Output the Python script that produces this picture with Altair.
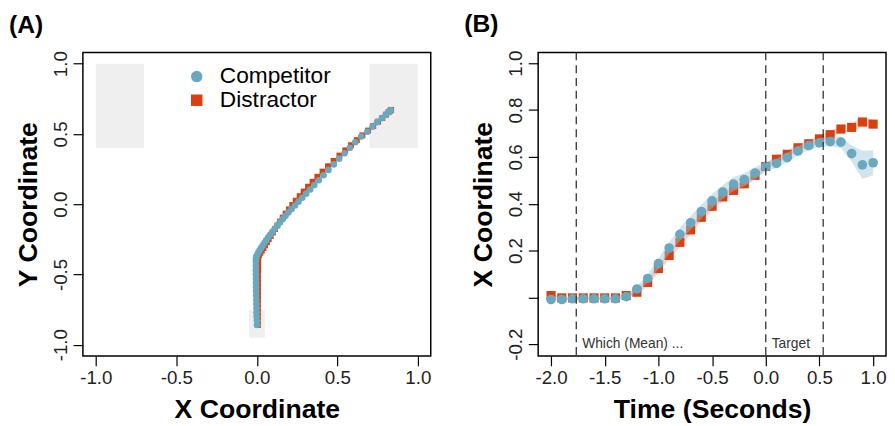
import altair as alt
import pandas as pd

FONT = "Liberation Sans"
BLUE = "#6aa8bf"
RED = "#d9400e"

# ---------- Panel A data: mean trajectories ----------
comp_x = [0.000, 0.000, -0.001, -0.002, -0.002, -0.003, -0.003, -0.004, -0.004, -0.005,
          -0.005, -0.005, -0.006, -0.006, -0.006, -0.006, -0.005, -0.003,
          0.003, 0.009, 0.017, 0.026, 0.036, 0.047, 0.058, 0.070, 0.083, 0.097,
          0.111, 0.126, 0.142, 0.159, 0.177, 0.196, 0.216, 0.237, 0.259, 0.282,
          0.306, 0.331, 0.357, 0.385, 0.414, 0.445, 0.478, 0.511, 0.545, 0.578,
          0.611, 0.648, 0.686, 0.718, 0.747, 0.776, 0.800, 0.817, 0.827, 0.832]
comp_y = [-0.860, -0.830, -0.800, -0.770, -0.740, -0.710, -0.680, -0.650, -0.620, -0.590,
          -0.560, -0.530, -0.500, -0.470, -0.440, -0.410, -0.390, -0.372,
          -0.360, -0.345, -0.330, -0.313, -0.295, -0.276, -0.257, -0.237, -0.217, -0.196,
          -0.175, -0.153, -0.131, -0.108, -0.084, -0.060, -0.035, -0.009, 0.018, 0.046,
          0.075, 0.105, 0.136, 0.170, 0.206, 0.244, 0.283, 0.324, 0.362, 0.401,
          0.441, 0.481, 0.516, 0.552, 0.584, 0.612, 0.636, 0.654, 0.664, 0.669]

dist_x = [0.006, 0.006, 0.006, 0.006, 0.006, 0.006, 0.007, 0.007, 0.007, 0.007,
          0.007, 0.007, 0.007, 0.008, 0.008, 0.008, 0.009,
          0.014, 0.022, 0.031, 0.041, 0.051, 0.062, 0.074, 0.086, 0.099, 0.113,
          0.128, 0.144, 0.161, 0.179, 0.199, 0.220, 0.242, 0.266, 0.291, 0.318,
          0.346, 0.376, 0.408, 0.442, 0.477, 0.513, 0.549, 0.585, 0.621, 0.656,
          0.691, 0.723, 0.753, 0.780, 0.802, 0.818, 0.828, 0.834]
dist_y = [-0.860, -0.830, -0.800, -0.770, -0.740, -0.710, -0.680, -0.650, -0.620, -0.590,
          -0.560, -0.530, -0.500, -0.470, -0.440, -0.410, -0.380,
          -0.362, -0.346, -0.330, -0.312, -0.292, -0.271, -0.249, -0.226, -0.202, -0.177,
          -0.151, -0.124, -0.096, -0.067, -0.037, -0.006, 0.025, 0.057, 0.090, 0.124,
          0.159, 0.195, 0.232, 0.270, 0.308, 0.346, 0.383, 0.420, 0.456, 0.490,
          0.524, 0.556, 0.587, 0.614, 0.637, 0.655, 0.665, 0.671]

# grey response boxes (start box and two targets)
zone_x1 = [-1.0, 0.7, -0.048]
zone_x2 = [-0.7, 1.0, 0.050]
zone_y1 = [0.40, 0.40, -0.95]
zone_y2 = [1.00, 1.00, -0.75]

# ---------- Panel B data: x coordinate over time ----------
time_s = [-2.0, -1.9, -1.8, -1.7, -1.6, -1.5, -1.4, -1.3, -1.2, -1.1, -1.0,
          -0.9, -0.8, -0.7, -0.6, -0.5, -0.4, -0.3, -0.2, -0.1, 0.0,
          0.1, 0.2, 0.3, 0.4, 0.5, 0.6, 0.7, 0.8, 0.9, 1.0]
comp_mean = [-0.009, -0.009, -0.006, -0.006, -0.006, -0.006, -0.006, 0.003, 0.036, 0.081, 0.144,
             0.211, 0.269, 0.319, 0.367, 0.412, 0.450, 0.484, 0.503, 0.531, 0.559,
             0.572, 0.597, 0.625, 0.648, 0.660, 0.665, 0.663, 0.614, 0.566, 0.575]
comp_se = [0.005, 0.005, 0.005, 0.005, 0.005, 0.005, 0.005, 0.008, 0.012, 0.018, 0.022,
           0.025, 0.028, 0.030, 0.030, 0.030, 0.030, 0.030, 0.028, 0.025, 0.020,
           0.020, 0.020, 0.020, 0.018, 0.018, 0.020, 0.025, 0.035, 0.060, 0.053]
dist_mean = [0.008, -0.002, -0.002, -0.002, -0.002, -0.002, -0.002, 0.008, 0.022, 0.064, 0.123,
             0.179, 0.235, 0.288, 0.342, 0.389, 0.429, 0.457, 0.485, 0.521, 0.559,
             0.590, 0.611, 0.639, 0.656, 0.677, 0.695, 0.719, 0.726, 0.749, 0.740]
dist_se = [0.006, 0.006, 0.006, 0.006, 0.006, 0.006, 0.006, 0.008, 0.012, 0.015, 0.016,
           0.017, 0.018, 0.018, 0.018, 0.018, 0.018, 0.017, 0.016, 0.015, 0.015,
           0.015, 0.015, 0.015, 0.015, 0.015, 0.015, 0.016, 0.018, 0.020, 0.020]

event_t = [-1.765, 0.0, 0.535]
label_t = [-1.71, 0.055]
label_y = [-0.2, -0.2]
label_txt = ["Which (Mean) ...", "Target"]

SERIES = ["Competitor", "Distractor"]

# ---------- frames ----------
trajA = pd.concat([
    pd.DataFrame({"series": "Distractor", "x": dist_x, "y": dist_y}),
    pd.DataFrame({"series": "Competitor", "x": comp_x, "y": comp_y}),
], ignore_index=True)
zones = pd.DataFrame({"x1": zone_x1, "x2": zone_x2, "y1": zone_y1, "y2": zone_y2})

compB = pd.DataFrame({"t": time_s, "m": comp_mean,
                      "lo": [m - s for m, s in zip(comp_mean, comp_se)],
                      "hi": [m + s for m, s in zip(comp_mean, comp_se)]})
distB = pd.DataFrame({"t": time_s, "m": dist_mean,
                      "lo": [m - s for m, s in zip(dist_mean, dist_se)],
                      "hi": [m + s for m, s in zip(dist_mean, dist_se)]})
events = pd.DataFrame({"t": event_t})
labels = pd.DataFrame({"t": label_t, "y": label_y, "txt": label_txt})

LBL = "(datum.value < 0 ? '-' : '') + format(abs(datum.value), '.1f')"
LBL_B = "datum.value == 0 ? '' : " + LBL

W, H = 353, 308

# ---------- Panel A ----------
xA = alt.Scale(domain=[-1.08, 1.08], nice=False, zero=False)
yA = alt.Scale(domain=[-1.08, 1.08], nice=False, zero=False)
axXA = alt.Axis(values=[-1.0, -0.5, 0.0, 0.5, 1.0], labelExpr=LBL, title="X Coordinate")
axYA = alt.Axis(values=[-1.0, -0.5, 0.0, 0.5, 1.0], labelExpr=LBL, title="Y Coordinate",
                labelAngle=270, labelAlign="center", labelBaseline="bottom")

rectA = alt.Chart(zones).mark_rect(color="#efefef").encode(
    x=alt.X("x1:Q", scale=xA, axis=axXA),
    x2="x2:Q",
    y=alt.Y("y1:Q", scale=yA, axis=axYA),
    y2="y2:Q",
)

color_enc = alt.Color("series:N", scale=alt.Scale(domain=SERIES, range=[BLUE, RED]),
                      legend=alt.Legend(title=None, orient="none", legendX=104, legendY=13,
                                        labelFontSize=23, labelFont=FONT, labelColor="black",
                                        symbolSize=135, symbolStrokeWidth=0, rowPadding=0,
                                        labelOffset=12))
shape_enc = alt.Shape("series:N", scale=alt.Scale(domain=SERIES, range=["circle", "square"]))

ptsA_red = alt.Chart(trajA).transform_filter(alt.datum.series == "Distractor").mark_point(
    filled=True, opacity=1, size=36, strokeWidth=0).encode(
    x=alt.X("x:Q", scale=xA), y=alt.Y("y:Q", scale=yA), color=color_enc, shape=shape_enc)
ptsA_blue = alt.Chart(trajA).transform_filter(alt.datum.series == "Competitor").mark_point(
    filled=True, opacity=1, size=45, strokeWidth=0).encode(
    x=alt.X("x:Q", scale=xA), y=alt.Y("y:Q", scale=yA), color=color_enc, shape=shape_enc)

panelA = alt.layer(rectA, ptsA_red, ptsA_blue).properties(
    width=W, height=H,
    title=alt.TitleParams("(A)", anchor="start", frame="bounds", dx=-6, offset=13,
                          fontSize=25, fontWeight="bold", font=FONT, color="black"))

# ---------- Panel B ----------
xB = alt.Scale(domain=[-2.12, 1.12], nice=False, zero=False)
yB = alt.Scale(domain=[-0.25, 1.046], nice=False, zero=False)
axXB = alt.Axis(values=[-2.0, -1.5, -1.0, -0.5, 0.0, 0.5, 1.0], labelExpr=LBL,
                title="Time (Seconds)")
axYB = alt.Axis(values=[-0.2, 0.0, 0.2, 0.4, 0.6, 0.8, 1.0], labelExpr=LBL_B,
                title="X Coordinate", labelAngle=270, labelAlign="center",
                labelBaseline="bottom")

bandR = alt.Chart(distB).mark_area(color="#ef9c8c", opacity=0.45).encode(
    x=alt.X("t:Q", scale=xB, axis=axXB), y=alt.Y("lo:Q", scale=yB, axis=axYB), y2="hi:Q")
ptsR = alt.Chart(distB).mark_square(color=RED, opacity=1, size=85).encode(
    x=alt.X("t:Q", scale=xB), y=alt.Y("m:Q", scale=yB))
bandC = alt.Chart(compB).mark_area(color="#9cc6d6", opacity=0.45).encode(
    x=alt.X("t:Q", scale=xB), y=alt.Y("lo:Q", scale=yB), y2="hi:Q")
ptsC = alt.Chart(compB).mark_circle(color=BLUE, opacity=1, size=95).encode(
    x=alt.X("t:Q", scale=xB), y=alt.Y("m:Q", scale=yB))
rules = alt.Chart(events).mark_rule(color="#333333", strokeDash=[8, 5], strokeWidth=1.3).encode(
    x=alt.X("t:Q", scale=xB))
texts = alt.Chart(labels).mark_text(align="left", baseline="middle", fontSize=14,
                                    font=FONT, color="#333333").encode(
    x=alt.X("t:Q", scale=xB), y=alt.Y("y:Q", scale=yB), text="txt:N")

panelB = alt.layer(bandR, ptsR, bandC, ptsC, rules, texts).properties(
    width=W, height=H,
    title=alt.TitleParams("(B)", anchor="start", frame="bounds", dx=-6, offset=13,
                          fontSize=25, fontWeight="bold", font=FONT, color="black"))

chart = alt.hconcat(panelA, panelB, spacing=32).properties(
    padding={"left": 0, "top": 0, "right": 0, "bottom": 0}
).configure(background="white").configure_view(
    stroke="black", strokeWidth=1.5
).configure_axis(
    domain=False, grid=False, tickColor="black", tickSize=10, tickWidth=1.2,
    labelFont=FONT, labelFontSize=19, labelColor="#222222", labelPadding=3,
    titleFont=FONT, titleFontSize=27, titleFontWeight="bold", titleColor="black",
    titlePadding=9,
)

chart.save("out.html", embed_options={"renderer": "svg", "actions": False})
